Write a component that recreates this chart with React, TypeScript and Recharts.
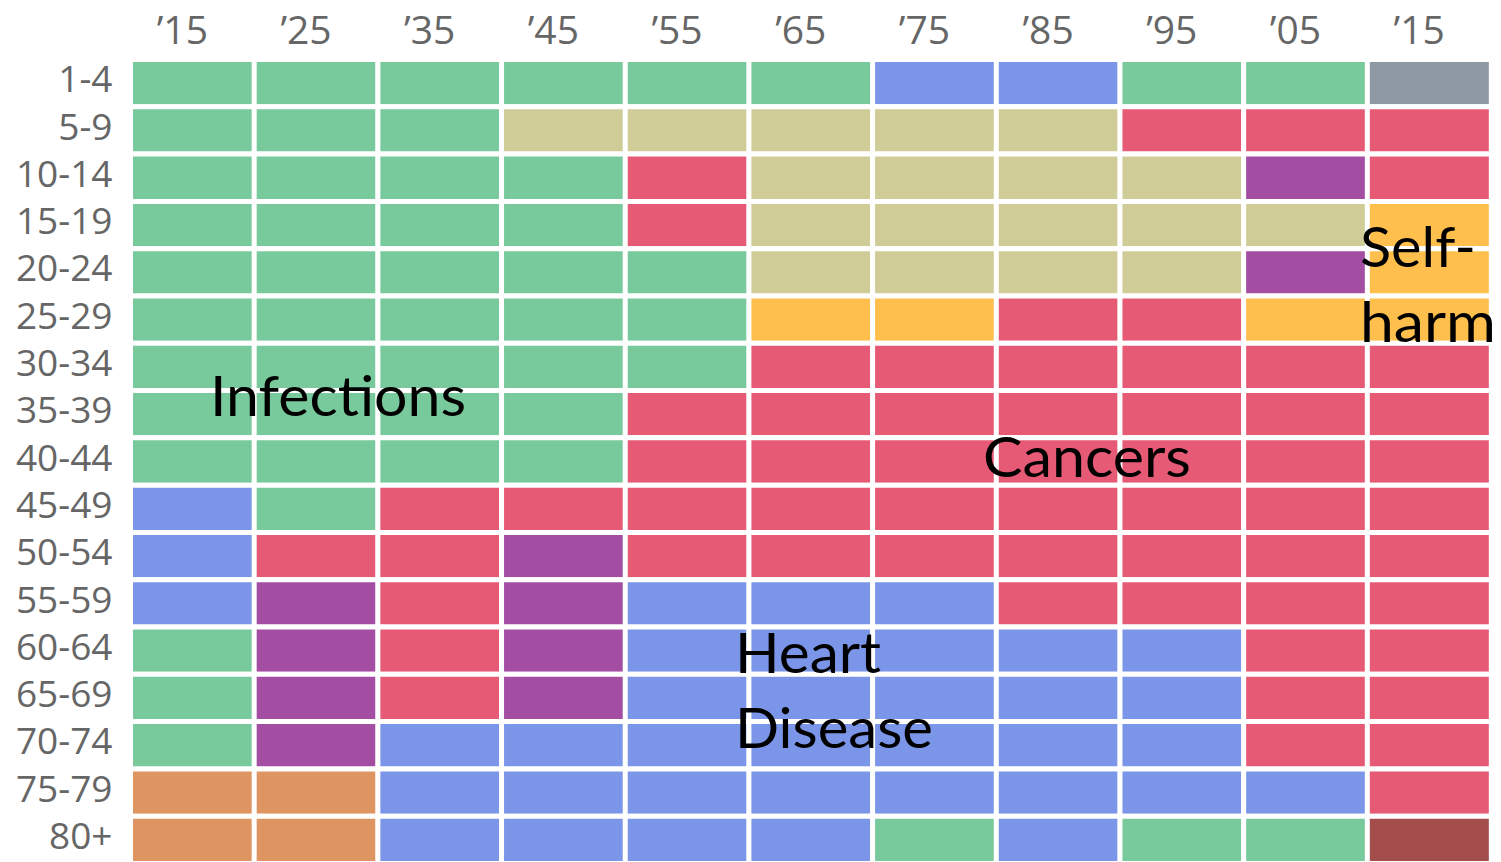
import React from "react";
import { BarChart, Bar, Cell, XAxis, YAxis } from "recharts";

const years = ["\u201915", "\u201925", "\u201935", "\u201945", "\u201955", "\u201965", "\u201975", "\u201985", "\u201995", "\u201905", "\u201915"];

const ages = ["1-4", "5-9", "10-14", "15-19", "20-24", "25-29", "30-34", "35-39", "40-44", "45-49", "50-54", "55-59", "60-64", "65-69", "70-74", "75-79", "80+"];

// leading cause of death per age group (rows) and decade (columns)
// I infections, A accidents, C cancers, H heart disease, P purple, S self-harm,
// O old age, X other, D dark red
const leading = [
  ["I", "I", "I", "I", "I", "I", "H", "H", "I", "I", "X"],
  ["I", "I", "I", "A", "A", "A", "A", "A", "C", "C", "C"],
  ["I", "I", "I", "I", "C", "A", "A", "A", "A", "P", "C"],
  ["I", "I", "I", "I", "C", "A", "A", "A", "A", "A", "S"],
  ["I", "I", "I", "I", "I", "A", "A", "A", "A", "P", "S"],
  ["I", "I", "I", "I", "I", "S", "S", "C", "C", "S", "S"],
  ["I", "I", "I", "I", "I", "C", "C", "C", "C", "C", "C"],
  ["I", "I", "I", "I", "C", "C", "C", "C", "C", "C", "C"],
  ["I", "I", "I", "I", "C", "C", "C", "C", "C", "C", "C"],
  ["H", "I", "C", "C", "C", "C", "C", "C", "C", "C", "C"],
  ["H", "C", "C", "P", "C", "C", "C", "C", "C", "C", "C"],
  ["H", "P", "C", "P", "H", "H", "H", "C", "C", "C", "C"],
  ["I", "P", "C", "P", "H", "H", "H", "H", "H", "C", "C"],
  ["I", "P", "C", "P", "H", "H", "H", "H", "H", "C", "C"],
  ["I", "P", "H", "H", "H", "H", "H", "H", "H", "C", "C"],
  ["O", "O", "H", "H", "H", "H", "H", "H", "H", "H", "C"],
  ["O", "O", "H", "H", "H", "H", "I", "H", "I", "I", "D"],
];

const causeColors: Record<string, string> = {
  I: "#78ca9c",
  A: "#d0cc98",
  C: "#e65a76",
  H: "#7b96e8",
  P: "#a34da3",
  S: "#ffbf4d",
  O: "#df9561",
  X: "#8e99a3",
  D: "#a44d4d",
};

const annotations = [
  { text: "Infections", x: 210, y: 416, w: 256 },
  { text: "Cancers", x: 983, y: 477, w: 208 },
  { text: "Heart", x: 735, y: 673, w: 146 },
  { text: "Disease", x: 735, y: 748, w: 198 },
  { text: "Self-", x: 1360, y: 267, w: 116 },
  { text: "harm", x: 1360, y: 342, w: 136 },
];

const rowTicks = ages.map((_, i) => i + 0.5);

const data = years.map((_, col) => {
  const row: Record<string, number> = { col };
  ages.forEach((_, r) => {
    row["r" + r] = 1;
  });
  return row;
});

const tickStyle = { fill: "#666", fontSize: 37, fontFamily: "Open Sans" };

function Annotations() {
  return (
    <svg
      width={1501}
      height={862}
      style={{ position: "absolute", left: 0, top: 0, pointerEvents: "none" }}
    >
      {annotations.map((a) => (
        <text
          key={a.text}
          x={a.x}
          y={a.y}
          fontSize={57}
          fontFamily="Lato"
          fill="#000"
          textLength={a.w}
          lengthAdjust="spacingAndGlyphs"
        >
          {a.text}
        </text>
      ))}
    </svg>
  );
}

export default function App() {
  return (
    <div style={{ position: "absolute", left: 0, top: 0, width: 1501, height: 862, overflow: "hidden", background: "#fff" }}>
      <BarChart
        width={1501}
        height={870}
        data={data}
        margin={{ top: 0, right: 10, bottom: 6.5, left: 0 }}
        barCategoryGap={0}
        barGap={0}
      >
        <XAxis
          dataKey="col"
          type="category"
          orientation="top"
          height={59.5}
          axisLine={false}
          tickLine={false}
          tickSize={0}
          tickMargin={15.5}
          interval={0}
          tickFormatter={(v) => years[v]}
          tick={{ ...tickStyle, fontSize: 39, dx: -10 }}
        />
        <YAxis
          type="number"
          domain={[0, ages.length]}
          reversed
          ticks={rowTicks}
          interval={0}
          width={130.5}
          axisLine={false}
          tickLine={false}
          tickSize={0}
          tickMargin={18}
          tickFormatter={(v) => ages[Math.floor(v)]}
          tick={{ ...tickStyle, dy: -4 }}
        />
        {ages.map((age, r) => (
          <Bar key={age} dataKey={"r" + r} stackId="grid" isAnimationActive={false} stroke="#fff" strokeWidth={5}>
            {years.map((_, c) => (
              <Cell key={c} fill={causeColors[leading[r][c]]} />
            ))}
          </Bar>
        ))}
      </BarChart>
      <Annotations />
    </div>
  );
}
